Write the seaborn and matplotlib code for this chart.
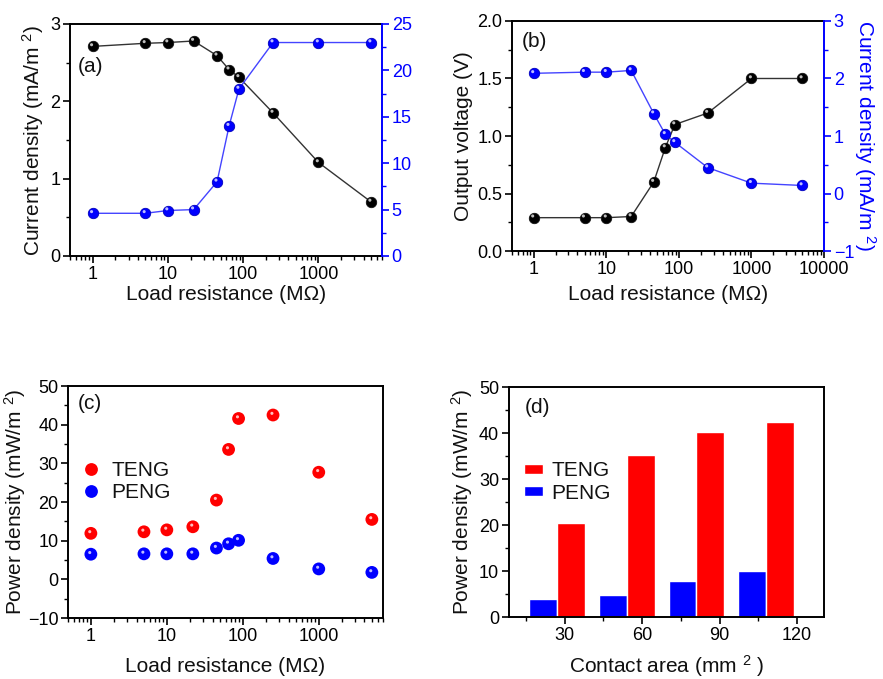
import numpy as np
import pandas as pd
import matplotlib
matplotlib.use("Agg")
import matplotlib.pyplot as plt
from matplotlib.ticker import LogLocator, NullFormatter, MultipleLocator, FormatStrFormatter
from matplotlib.transforms import offset_copy
import seaborn as sns

# load resistance (MOhm), same points in (a), (b), (c)
res = [1, 5, 10, 22, 45, 65, 88, 250, 1000, 5000]

# (a) current density: black on left axis, blue on right axis
a_black = [2.71, 2.75, 2.76, 2.78, 2.59, 2.41, 2.31, 1.85, 1.21, 0.70]
a_blue = [4.6, 4.6, 4.9, 5.0, 8.0, 14.0, 18.0, 23.0, 23.0, 23.0]

# (b) output voltage (left) and current density (right)
b_volt = [0.29, 0.29, 0.29, 0.30, 0.60, 0.90, 1.10, 1.20, 1.50, 1.50]
b_curr = [2.09, 2.11, 2.11, 2.14, 1.39, 1.03, 0.89, 0.45, 0.18, 0.14]

# (c) power density vs load
c_teng = [11.9, 12.3, 12.8, 13.6, 20.5, 33.6, 41.6, 42.5, 27.7, 15.5]
c_peng = [6.5, 6.6, 6.6, 6.6, 8.1, 9.2, 10.1, 5.4, 2.7, 1.8]

# (d) power density vs contact area
area = [30, 60, 90, 120]
d_teng = [20.5, 35.2, 40.2, 42.3]
d_peng = [3.85, 4.8, 7.9, 10.0]

BLUE = "#0000ff"
RED = "#ff0000"
LBL = 15
TCK = 13

sns.set_theme(style="ticks")
plt.rcParams["font.family"] = ["Liberation Sans", "DejaVu Sans"]
plt.rcParams["mathtext.fontset"] = "custom"
plt.rcParams["mathtext.rm"] = "Liberation Sans"
plt.rcParams["mathtext.it"] = "Liberation Sans"
plt.rcParams["axes.linewidth"] = 1.4
plt.rcParams["xtick.labelsize"] = TCK
plt.rcParams["ytick.labelsize"] = TCK
plt.rcParams["axes.labelsize"] = LBL
plt.rcParams["text.color"] = "#111111"
plt.rcParams["axes.labelcolor"] = "#111111"

fig = plt.figure(figsize=(8.83, 6.79), dpi=100)
ax_a = fig.add_axes([0.0793, 0.6230, 0.3533, 0.3417])
ax_b = fig.add_axes([0.5798, 0.6303, 0.3534, 0.3388])
ax_c = fig.add_axes([0.0770, 0.0898, 0.3567, 0.3417])
ax_d = fig.add_axes([0.5764, 0.0913, 0.3567, 0.3387])


def style(ax, color="black"):
    ax.tick_params(which="major", direction="out", length=5, width=1.2, colors=color, pad=2)
    ax.tick_params(which="minor", direction="out", length=3, width=1.0, colors=color)
    ax.tick_params(axis="x", top=False, which="both")
    for s in ax.spines.values():
        s.set_visible(True)
        s.set_color("black")


def logx(ax, right, labels):
    ax.set_xscale("log")
    ax.set_xlim(0.5, right)
    ax.set_xticks(labels)
    ax.set_xticklabels([str(v) for v in labels])
    ax.xaxis.set_minor_locator(LogLocator(subs=range(2, 10)))
    ax.xaxis.set_minor_formatter(NullFormatter())


def twin_blue(ax):
    ax2 = ax.twinx()
    ax2.tick_params(which="major", direction="out", length=5, width=1.2, colors=BLUE, labelcolor=BLUE, pad=2)
    ax2.tick_params(which="minor", direction="out", length=3, width=1.0, colors=BLUE)
    ax2.spines["right"].set_color(BLUE)
    ax2.spines["right"].set_linewidth(1.4)
    for k in ["left", "top", "bottom"]:
        ax2.spines[k].set_visible(False)
    ax.spines["right"].set_visible(False)
    return ax2


def shine(ax, x, y):
    # small glossy spot so the dots look like the shaded balls of the original
    tr = offset_copy(ax.transData, fig=fig, x=-0.8, y=1.2, units="points")
    ax.scatter(x, y, s=5, color="white", alpha=0.75, edgecolor="none", transform=tr, zorder=5)


black_kw = dict(color="#333333", linewidth=1.0, marker="o", markersize=7.5,
                markerfacecolor="black", markeredgecolor="#111111", markeredgewidth=0.6)
blue_kw = dict(color="#4444ff", linewidth=1.0, marker="o", markersize=7.5,
               markerfacecolor=BLUE, markeredgecolor="#0000bb", markeredgewidth=0.6)

# ---------- (a) ----------
style(ax_a)
sns.lineplot(x=res, y=a_black, ax=ax_a, **black_kw)
shine(ax_a, res, a_black)
ax_a.set_ylim(0, 3)
ax_a.yaxis.set_major_locator(MultipleLocator(1))
ax_a.yaxis.set_minor_locator(MultipleLocator(0.5))
logx(ax_a, 7000, [1, 10, 100, 1000])
ax_a.set_xlabel("Load resistance (MΩ)", labelpad=2)
ax_a.set_ylabel(r"Current density (mA/m $^{2}$)", labelpad=3)
ax_a.text(0.026, 0.815, "(a)", transform=ax_a.transAxes, fontsize=LBL, va="center")
ax_a2 = twin_blue(ax_a)
sns.lineplot(x=res, y=a_blue, ax=ax_a2, **blue_kw)
shine(ax_a2, res, a_blue)
ax_a2.set_ylim(0, 25)
ax_a2.yaxis.set_major_locator(MultipleLocator(5))
ax_a2.yaxis.set_minor_locator(MultipleLocator(2.5))
ax_a2.set_ylabel("")

# ---------- (b) ----------
style(ax_b)
sns.lineplot(x=res, y=b_volt, ax=ax_b, **black_kw)
shine(ax_b, res, b_volt)
ax_b.set_ylim(0, 2)
ax_b.yaxis.set_major_locator(MultipleLocator(0.5))
ax_b.yaxis.set_minor_locator(MultipleLocator(0.25))
ax_b.yaxis.set_major_formatter(FormatStrFormatter("%.1f"))
logx(ax_b, 10000, [1, 10, 100, 1000, 10000])
ax_b.set_xlabel("Load resistance (MΩ)", labelpad=5)
ax_b.set_ylabel("Output voltage (V)", labelpad=3)
ax_b.text(0.03, 0.91, "(b)", transform=ax_b.transAxes, fontsize=LBL, va="center")
ax_b2 = twin_blue(ax_b)
sns.lineplot(x=res, y=b_curr, ax=ax_b2, **blue_kw)
shine(ax_b2, res, b_curr)
ax_b2.set_ylim(-1, 3)
ax_b2.yaxis.set_major_locator(MultipleLocator(1))
ax_b2.yaxis.set_minor_locator(MultipleLocator(0.5))
ax_b2.set_ylabel(r"Current density (mA/m $^{2}$)", color=BLUE, rotation=270, labelpad=17)

# ---------- (c) ----------
style(ax_c)
df_c = pd.DataFrame({
    "res": res + res,
    "pd": c_teng + c_peng,
    "kind": ["TENG"] * len(res) + ["PENG"] * len(res),
})
sns.scatterplot(data=df_c, x="res", y="pd", hue="kind", palette={"TENG": RED, "PENG": BLUE},
                s=85, edgecolor="none", ax=ax_c)
shine(ax_c, df_c["res"], df_c["pd"])
logx(ax_c, 7000, [1, 10, 100, 1000])
ax_c.set_ylim(-10, 50)
ax_c.yaxis.set_major_locator(MultipleLocator(10))
ax_c.yaxis.set_minor_locator(MultipleLocator(5))
ax_c.set_xlabel("Load resistance (MΩ)", labelpad=9)
ax_c.set_ylabel(r"Power density (mW/m $^{2}$)", labelpad=0)
ax_c.text(0.03, 0.925, "(c)", transform=ax_c.transAxes, fontsize=LBL, va="center")
ax_c.legend(loc="upper left", bbox_to_anchor=(-0.04, 0.74), frameon=False, fontsize=LBL,
            handletextpad=0.0, labelspacing=0.15, borderpad=0.2, markerscale=1.0)

# ---------- (d) ----------
style(ax_d)
df_d = pd.DataFrame({
    "area": [str(a) for a in area] * 2,
    "pd": d_peng + d_teng,
    "kind": ["PENG"] * len(area) + ["TENG"] * len(area),
})
sns.barplot(data=df_d, x="area", y="pd", hue="kind", hue_order=["PENG", "TENG"],
            palette={"TENG": RED, "PENG": BLUE}, saturation=1, width=0.8, ax=ax_d)
ax_d.set_xlim(-0.69, 3.83)
# tick labels sit on a linear mm^2 scale offset from the bar groups
ax_d.set_xticks([a / 27 - 1 for a in area])
ax_d.set_xticklabels([str(a) for a in area])
ax_d.set_xticks([a / 27 - 1 - 15 / 27 for a in area], minor=True)
ax_d.tick_params(axis="x", which="minor", length=3)
ax_d.set_ylim(0, 50)
ax_d.yaxis.set_major_locator(MultipleLocator(10))
ax_d.yaxis.set_minor_locator(MultipleLocator(5))
ax_d.set_xlabel(r"Contact area (mm $^{2}$ )", labelpad=7)
ax_d.set_ylabel(r"Power density (mW/m $^{2}$)", labelpad=3)
ax_d.text(0.05, 0.91, "(d)", transform=ax_d.transAxes, fontsize=LBL, va="center")
h, l = ax_d.get_legend_handles_labels()
ax_d.legend([h[1], h[0]], [l[1], l[0]], loc="upper left", bbox_to_anchor=(0.0, 0.74),
            frameon=False, fontsize=LBL, handlelength=0.95, handleheight=0.35,
            handletextpad=0.4, labelspacing=0.15, borderpad=0.2)

fig.savefig("out.png", dpi=100)
